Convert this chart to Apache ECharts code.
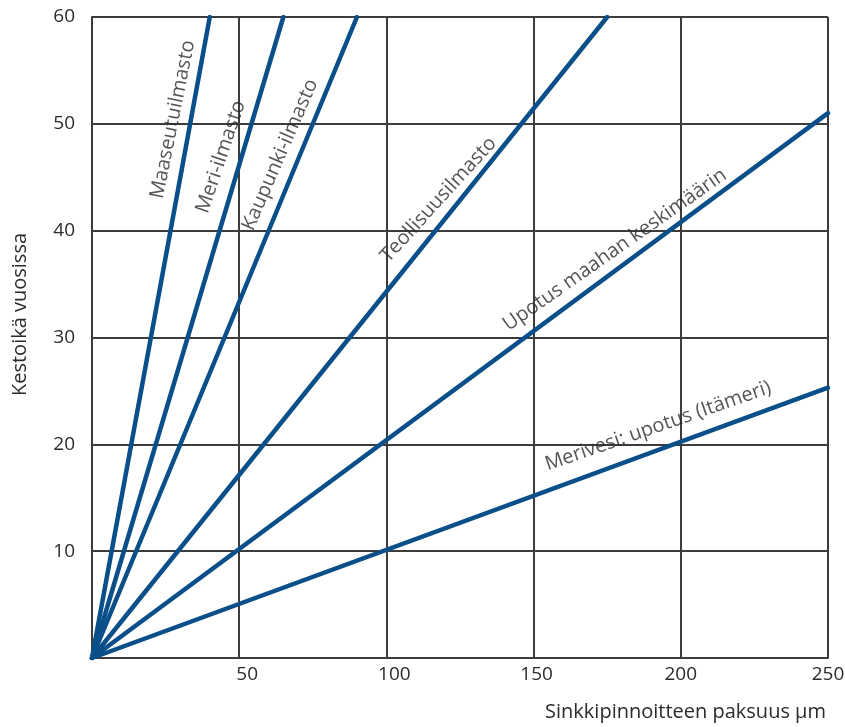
<!DOCTYPE html>
<html>
<head>
<meta charset="utf-8">
<script src="https://cdn.jsdelivr.net/npm/echarts@6/dist/echarts.min.js"></script>
<style>html,body{margin:0;padding:0;background:#fff;}#c{width:845px;height:727px;}</style>
</head>
<body>
<div id="c"></div>
<script>
// Series names (line labels)
const seriesNames = ['Maaseutuilmasto', 'Meri-ilmasto', 'Kaupunki-ilmasto', 'Teollisuusilmasto', 'Upotus maahan keskimäärin', 'Merivesi: upotus (Itämeri)'];
// Coating thickness (µm) at end point of each line, and lifetime (years) there
const endThickness = [40, 65, 90, 175, 250, 250];
const endYears = [60, 60, 60, 60, 51, 25.3];
// Label anchor positions (data units) for each line's text
const labelX = [27.5, 43.8, 63.9, 117.7, 177.6, 192.3];
const labelY = [50.4, 46.9, 47.1, 42.9, 38.2, 21.7];
const labelTilt = [-1, -2, -1, -3.5, -1.5, -1];
const xTicks = [0, 50, 100, 150, 200, 250];
const yTicks = [0, 10, 20, 30, 40, 50, 60];

const lineColor = '#0b4f8a';
const textColor = '#2b2b2b';
const font = 'Open Sans';

const chart = echarts.init(document.getElementById('c'));
const gridPos = {left: 92, right: 17, top: 17, bottom: 69, containLabel: false, outerBoundsMode: 'none'};

function buildSeries(rotations) {
  const s = [];
  seriesNames.forEach((n, i) => {
    s.push({
      type: 'line', name: n, showSymbol: false, silent: true,
      data: [[0, 0], [endThickness[i], endYears[i]]],
      lineStyle: {color: lineColor, width: 4.5, cap: 'round'},
      z: 3
    });
    s.push({
      type: 'scatter', symbolSize: 0, silent: true,
      data: [[labelX[i], labelY[i]]],
      label: {
        show: true, position: 'inside', formatter: n,
        rotate: rotations ? rotations[i] : 0,
        color: textColor, fontFamily: font, fontSize: 20
      },
      z: 4
    });
  });
  return s;
}

const xLabelStyle = {color: textColor, fontFamily: font, fontSize: 19};
const option = {
  animation: false,
  backgroundColor: '#fff',
  grid: gridPos,
  title: {
    text: 'Sinkkipinnoitteen paksuus µm',
    right: 14, bottom: 0,
    textStyle: {color: textColor, fontFamily: font, fontSize: 20, fontWeight: 'normal'}
  },
  xAxis: {
    type: 'value', min: 0, max: 250, interval: 50,
    axisLine: {show: true, lineStyle: {color: '#3c3c3c', width: 2}},
    axisTick: {show: false},
    splitLine: {show: true, lineStyle: {color: '#3c3c3c', width: 2}},
    axisLabel: {
      color: textColor, fontFamily: font, fontSize: 19, margin: 7,
      formatter: v => (v === 0 ? '' : (v <= 100 ? '{a|' + v + '}' : (v === 150 ? '{b|' + v + '}' : String(v)))),
      rich: {
        a: Object.assign({padding: [0, 0, 0, 16]}, xLabelStyle),
        b: Object.assign({padding: [0, 0, 0, 6]}, xLabelStyle)
      }
    }
  },
  yAxis: {
    type: 'value', min: 0, max: 60, interval: 10,
    name: 'Kestoikä vuosissa', nameLocation: 'middle', nameGap: 62,
    nameTextStyle: {color: textColor, fontFamily: font, fontSize: 20, padding: [0, 0, 0, 46]},
    axisLine: {show: true, lineStyle: {color: '#3c3c3c', width: 2}},
    axisTick: {show: false},
    splitLine: {show: true, lineStyle: {color: '#3c3c3c', width: 2}},
    axisLabel: {
      color: textColor, fontFamily: font, fontSize: 19, margin: 17,
      verticalAlign: 'middle', padding: [0, 0, 12, 0],
      formatter: v => (v === 0 ? '' : String(v))
    }
  },
  series: buildSeries(null)
};
chart.setOption(option);

// compute label rotations from the lines' on-screen slopes
const rots = seriesNames.map((n, i) => {
  const p0 = chart.convertToPixel({gridIndex: 0}, [0, 0]);
  const p1 = chart.convertToPixel({gridIndex: 0}, [endThickness[i], endYears[i]]);
  return Math.atan2(p0[1] - p1[1], p1[0] - p0[0]) * 180 / Math.PI + labelTilt[i];
});
chart.setOption({series: buildSeries(rots)});
</script>
</body>
</html>
